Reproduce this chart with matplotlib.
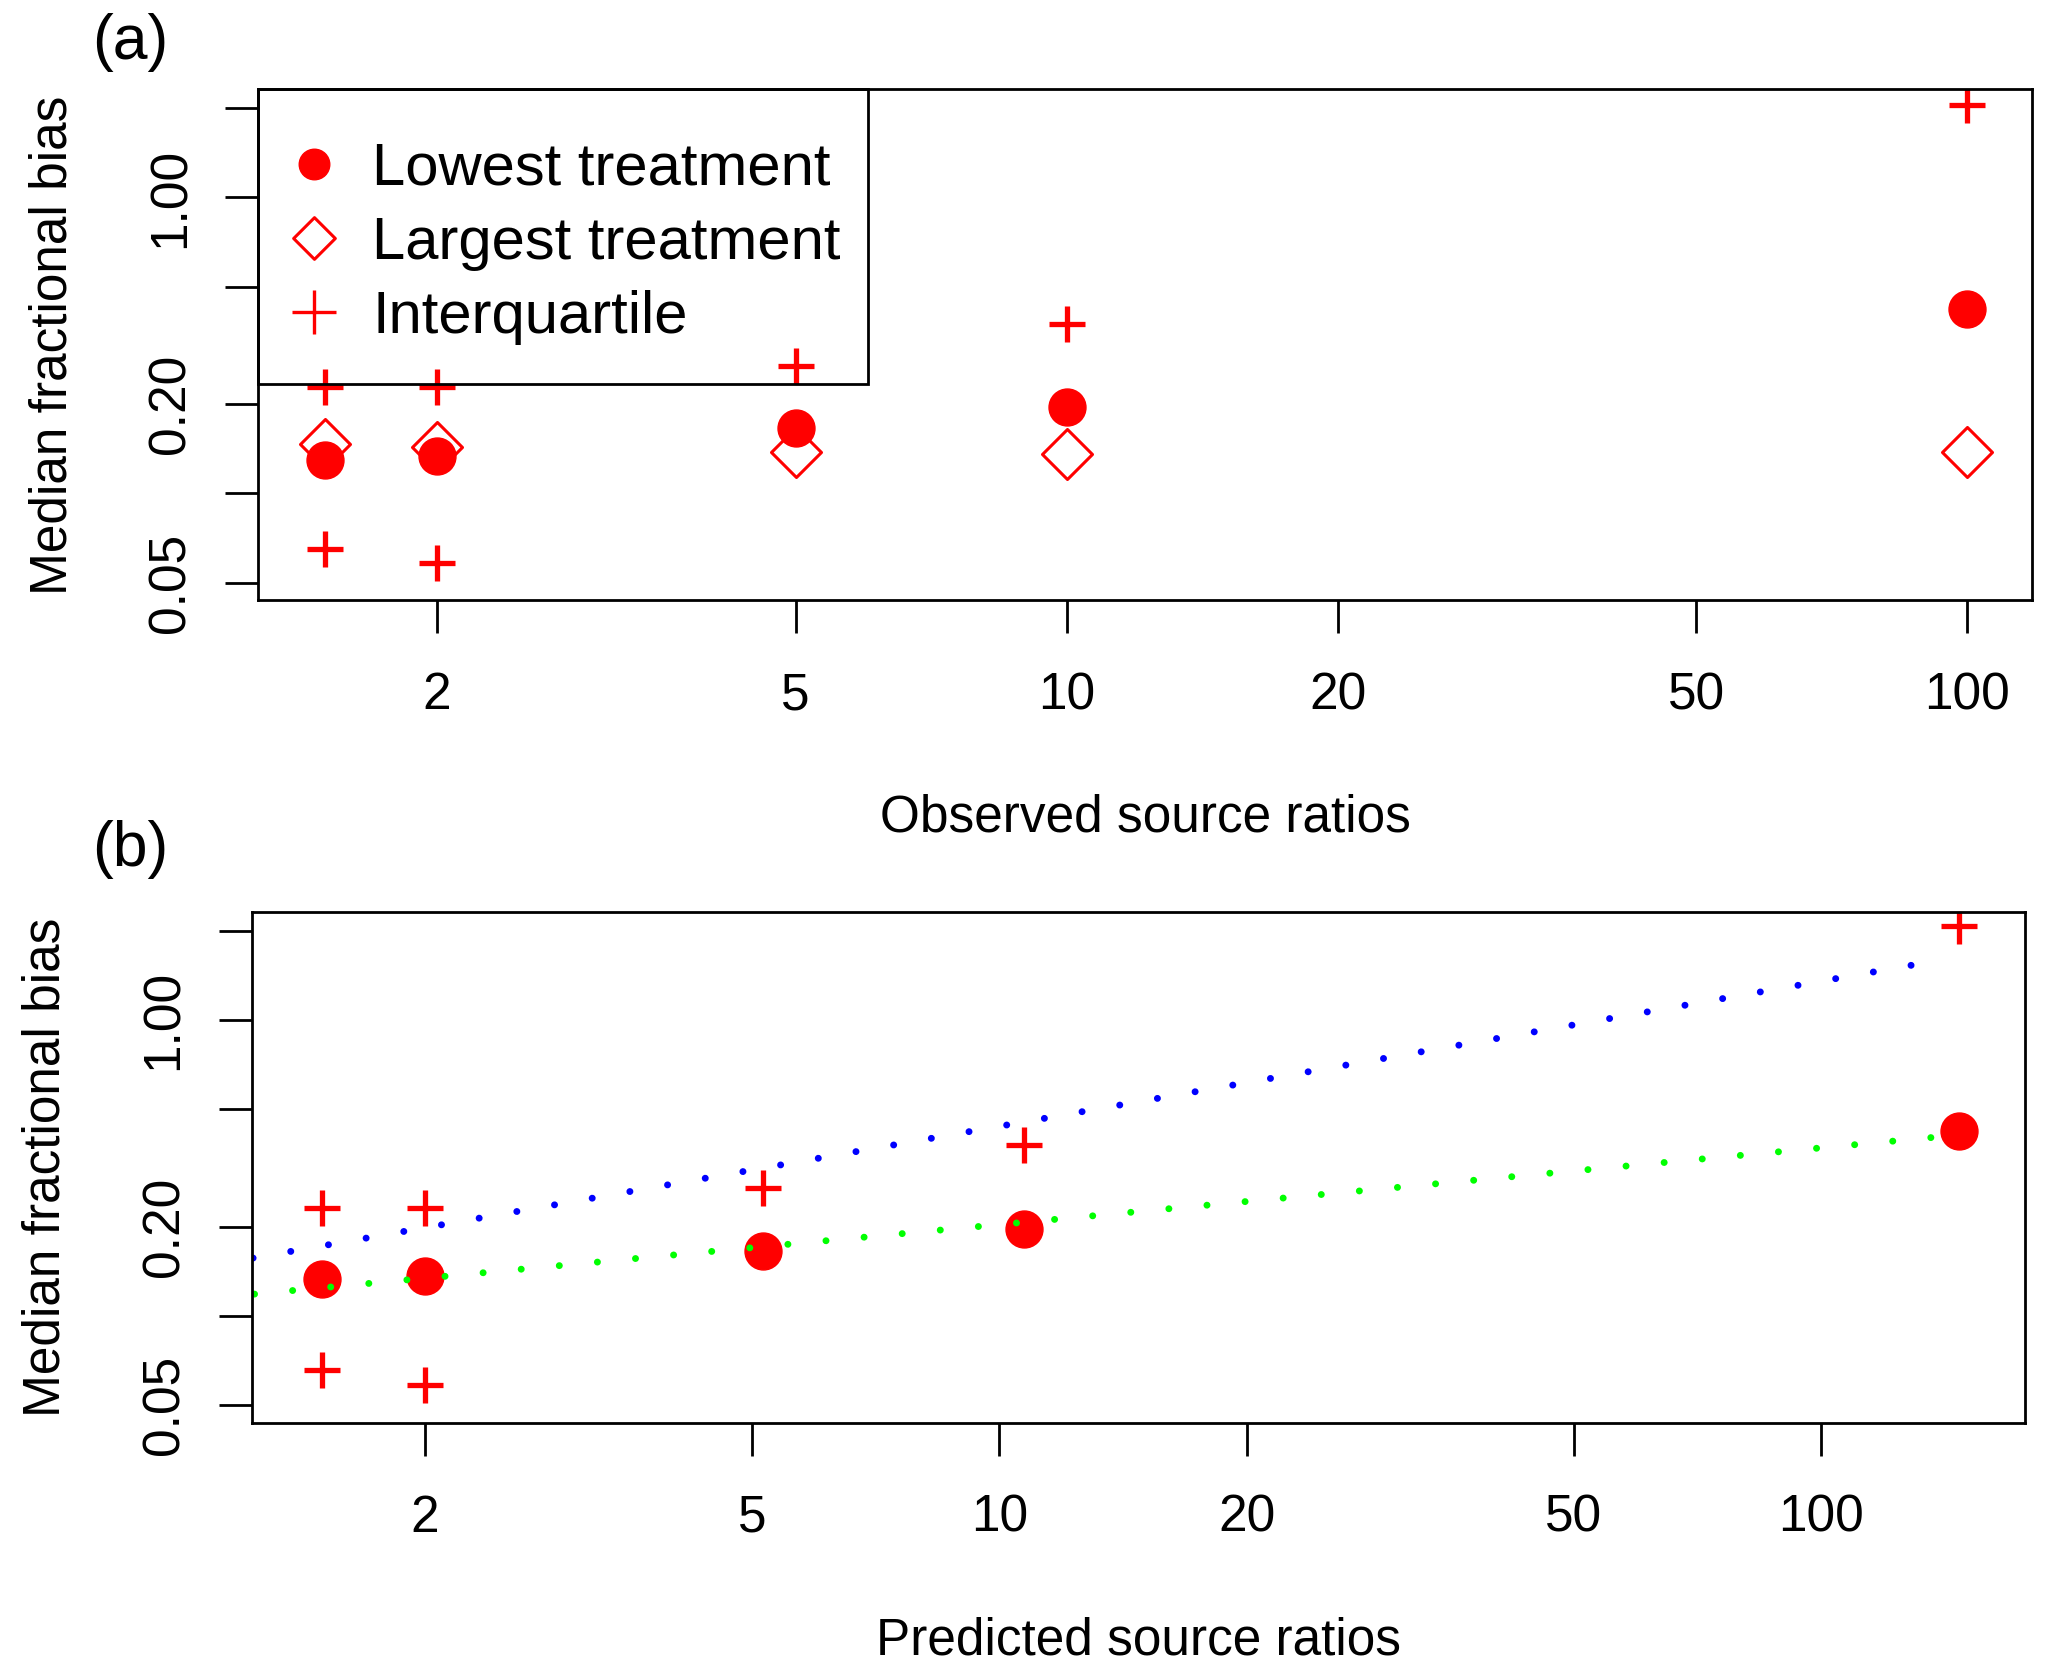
import matplotlib

matplotlib.use("Agg")
import matplotlib.pyplot as plt
import numpy as np
from matplotlib.lines import Line2D
from matplotlib.patches import Rectangle
from matplotlib.path import Path
from matplotlib.ticker import NullLocator

plt.rcParams["font.family"] = ["Liberation Sans", "DejaVu Sans"]

# panel (a): observed source ratios
obs_ratio = [1.5, 2, 5, 10, 100]
obs_lowest = [0.130, 0.134, 0.166, 0.196, 0.420]
obs_largest = [0.147, 0.144, 0.138, 0.136, 0.138]
obs_iqr_hi = [0.228, 0.228, 0.269, 0.374, 2.05]
obs_iqr_lo = [0.065, 0.058, np.nan, np.nan, np.nan]

# panel (b): predicted source ratios
pred_ratio = [1.5, 2, 5.15, 10.7, 147]
pred_lowest = [0.133, 0.137, 0.166, 0.197, 0.421]
pred_iqr_hi = [0.231, 0.231, 0.270, 0.379, 2.09]
pred_iqr_lo = [0.0655, 0.0585, np.nan, np.nan, np.nan]

# dotted trend lines in panel (b), end points
blue_x = [1.235, 133]
blue_y = [0.157, 1.56]
green_x = [1.24, 141]
green_y = [0.1186, 0.405]

x_ticks = [2, 5, 10, 20, 50, 100]
x_labels = ["2", "5", "10", "20", "50", "100"]
y_ticks = [0.05, 0.1, 0.2, 0.5, 1, 2]
y_labels = ["0.05", "", "0.20", "", "1.00", ""]
legend_labels = ["Lowest treatment", "Largest treatment", "Interquartile"]

RED = "#ff0000"
DIAMOND = Path([(0, 1), (1, 0), (0, -1), (-1, 0), (0, 1)], closed=True)
DOTS = (0, (0.01, 5.5))


def style_axes(ax, xlim, ylim, xlabel):
    ax.set_xscale("log")
    ax.set_yscale("log")
    ax.set_xlim(*xlim)
    ax.set_ylim(*ylim)
    ax.set_xticks(x_ticks, x_labels)
    ax.set_yticks(y_ticks, y_labels)
    ax.xaxis.set_minor_locator(NullLocator())
    ax.yaxis.set_minor_locator(NullLocator())
    ax.tick_params(axis="both", direction="out", length=24, width=2,
                   labelsize=37, color="black")
    ax.tick_params(axis="x", pad=27)
    ax.tick_params(axis="y", pad=21)
    plt.setp(ax.get_yticklabels(), rotation=90, va="center")
    for sp in ax.spines.values():
        sp.set_linewidth(2)
    ax.set_xlabel(xlabel, fontsize=37, labelpad=53)
    ax.set_ylabel("Median fractional bias", fontsize=37, labelpad=50)


fig = plt.figure(figsize=(20.5, 16.75), dpi=100)
ax1 = fig.add_axes([0.12585, 0.64155, 0.8654, 0.30513])
ax2 = fig.add_axes([0.12273, 0.15051, 0.86507, 0.30519])

# (a)
ax1.plot(obs_ratio, obs_largest, linestyle="none", marker=DIAMOND,
         markersize=36, markerfacecolor="none", markeredgecolor=RED,
         markeredgewidth=2.2)
ax1.plot(obs_ratio, obs_lowest, linestyle="none", marker="o",
         markersize=26.6, color=RED)
ax1.plot(obs_ratio, obs_iqr_hi, linestyle="none", marker="+",
         markersize=26, markeredgewidth=3.8, color=RED)
ax1.plot(obs_ratio, obs_iqr_lo, linestyle="none", marker="+",
         markersize=26, markeredgewidth=3.8, color=RED)
style_axes(ax1, (1.265, 118), (0.0435, 2.32), "Observed source ratios")

handles = [
    Line2D([], [], linestyle="none", marker="o", markersize=22, color=RED),
    Line2D([], [], linestyle="none", marker=DIAMOND, markersize=30,
           markerfacecolor="none", markeredgecolor=RED, markeredgewidth=2.2),
    Line2D([], [], linestyle="none", marker="+", markersize=31,
           markeredgewidth=2.4, color=RED),
]
ax1.legend(handles, legend_labels, loc="upper left",
           bbox_to_anchor=(0.0214, 0.897), borderaxespad=0, borderpad=0,
           fontsize=43, frameon=False, labelspacing=0.32,
           handlelength=0.6, handletextpad=0.68)
# R-style legend box, flush with the top-left corner of the plot
ax1.add_patch(Rectangle((0, 0.4234), 0.344, 0.5766, transform=ax1.transAxes,
                        fill=False, edgecolor="black", linewidth=2,
                        clip_on=False, zorder=6))

# (b)
ax2.plot(pred_ratio, pred_lowest, linestyle="none", marker="o",
         markersize=26.6, color=RED)
ax2.plot(pred_ratio, pred_iqr_hi, linestyle="none", marker="+",
         markersize=26, markeredgewidth=3.8, color=RED)
ax2.plot(pred_ratio, pred_iqr_lo, linestyle="none", marker="+",
         markersize=26, markeredgewidth=3.8, color=RED)
ax2.plot(blue_x, blue_y, color="#0000ff", linewidth=5,
         linestyle=DOTS, dash_capstyle="round")
ax2.plot(green_x, green_y, color="#00ff00", linewidth=5,
         linestyle=DOTS, dash_capstyle="round")
style_axes(ax2, (1.23, 177), (0.0435, 2.33), "Predicted source ratios")

fig.text(0.0634, 0.9749, "(a)", fontsize=45, ha="center", va="center")
fig.text(0.0634, 0.4931, "(b)", fontsize=45, ha="center", va="center")

fig.savefig("out.png", dpi=100)
